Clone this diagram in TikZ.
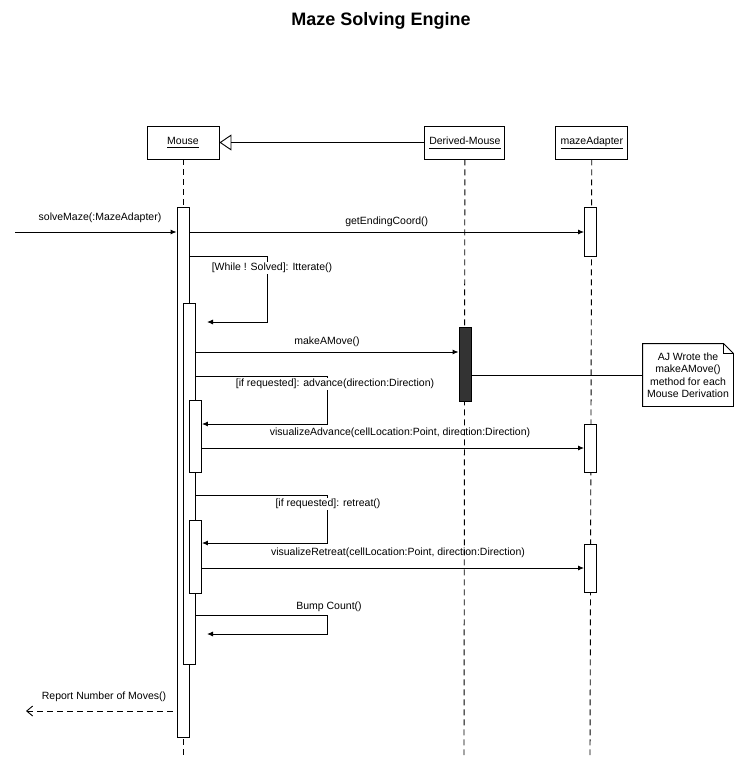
\documentclass[tikz,border=0pt]{standalone}
\usepackage{fontspec}
\setmainfont{Liberation Sans}
\usetikzlibrary{calc,arrows.meta,positioning}

\newcommand{\objname}[1]{\underline{#1\vphantom{p}}}

\begin{document}
\begin{tikzpicture}[x=1pt,y=-1pt,line width=0.9pt,
    txt/.style={font=\fontsize{10.5}{12.5}\selectfont,inner sep=1pt},
    head/.style={txt,draw,minimum height=33pt,inner sep=3pt},
    bar/.style={draw,fill=white,minimum width=12pt,inner sep=0pt,anchor=north},
    lifeline/.style={dash pattern=on 6pt off 4pt},
    msg/.style={-{Latex[length=6pt,width=5pt]}},
    reply/.style={dash pattern=on 6pt off 4pt,-{Straight Barb[length=6pt,width=10pt]}}]
    \useasboundingbox (0,0) rectangle (735,781);

    %title
    \node[font=\bfseries\fontsize{18}{20}\selectfont] (title) at (381,21) {Maze Solving Engine};

    %heads
    \node[head,minimum width=72pt] (mouse) at (183,142.5) {\objname{Mouse}};
    \node[head,minimum width=80pt,right = 205pt of mouse] (derived) {\objname{Derived-Mouse}};
    \node[head,minimum width=72pt,right = 50pt of derived] (adapter) {\objname{mazeAdapter}};

    \draw[-{Triangle[open,length=12pt,width=16pt]}] (derived) -- (mouse);

    %lifelines
    \coordinate (mouseEnd) at (183,755);
    \coordinate (derivedEnd) at (464,755);
    \coordinate (adapterEnd) at (590,755);
    \draw[lifeline] (mouse) -- (mouseEnd);
    \draw[lifeline] (derived) -- (derivedEnd);
    \draw[lifeline] (adapter) -- (adapterEnd);

    %activations
    \node[bar,minimum height=530pt] (mouseAct) at (183,207) {};
    \node[bar,minimum height=361pt] (loopAct) at (189,303) {};
    \node[bar,minimum height=72pt] (advAct) at (195.5,400) {};
    \node[bar,minimum height=73pt] (retAct) at (195.5,520) {};
    \node[bar,minimum height=74pt,fill=black!80] (derivedAct) at (465,327) {};
    \node[bar,minimum height=49pt] (adapterAct1) at (590.5,207) {};
    \node[bar,minimum height=48pt] (adapterAct2) at (590.5,424) {};
    \node[bar,minimum height=48pt] (adapterAct3) at (590.5,544) {};

    %calls
    \coordinate (solveStart) at (15,232);
    \draw[msg] (solveStart) -- (mouseAct.west |- solveStart);
    \node[txt] (solveLabel) at (100,218) {solveMaze(:MazeAdapter)};
    \draw[msg] (mouseAct.east |- solveStart) -- (adapterAct1.west |- solveStart)
        node[txt,midway,above=4pt] (coordLabel) {getEndingCoord()};

    %while loop
    \coordinate (itTop) at (267,256);
    \coordinate (itBot) at (267,322);
    \coordinate (itEnd) at (207,322);
    \draw[msg] (mouseAct.east |- itTop) -- (itTop) -- (itBot) -- (itEnd);
    \node[txt,fill=white] (itLabel) at (272,268) {[While ! Solved]: Itterate()};

    \coordinate (moveAt) at (330,352);
    \draw[msg] (loopAct.east |- moveAt) -- (derivedAct.west |- moveAt)
        node[txt,midway,above=4pt] (moveLabel) {makeAMove()};

    %advance
    \coordinate (advTop) at (327,376);
    \coordinate (advBot) at (327,424);
    \draw[msg] (loopAct.east |- advTop) -- (advTop) -- (advBot) -- (advAct.east |- advBot);
    \node[txt,fill=white] (advLabel) at (335,384) {[if requested]: advance(direction:Direction)};

    \coordinate (visAdvAt) at (400,448);
    \draw[msg] (advAct.east |- visAdvAt) -- (adapterAct2.west |- visAdvAt);
    \node[txt] (visAdvLabel) at (400,433) {visualizeAdvance(cellLocation:Point, direction:Direction)};

    %retreat
    \coordinate (retTop) at (327,495);
    \coordinate (retBot) at (327,543);
    \draw[msg] (loopAct.east |- retTop) -- (retTop) -- (retBot) -- (retAct.east |- retBot);
    \node[txt,fill=white] (retLabel) at (328,504) {[if requested]: retreat()};

    \coordinate (visRetAt) at (400,568);
    \draw[msg] (retAct.east |- visRetAt) -- (adapterAct3.west |- visRetAt);
    \node[txt] (visRetLabel) at (398,553) {visualizeRetreat(cellLocation:Point, direction:Direction)};

    %bump count
    \coordinate (bumpTop) at (327,615);
    \coordinate (bumpBot) at (327,634);
    \coordinate (bumpEnd) at (207,634);
    \draw[msg] (loopAct.east |- bumpTop) -- (bumpTop) -- (bumpBot) -- (bumpEnd);
    \node[txt] (bumpLabel) at (329,607) {Bump Count()};

    %return
    \coordinate (reportEnd) at (26,711);
    \draw[reply] ($(mouseAct.west |- reportEnd)+(-4,0)$) -- (reportEnd);
    \node[txt] (reportLabel) at (104,697) {Report Number of Moves()};

    %note
    \node[txt,align=center,minimum width=90pt,minimum height=62pt,inner sep=0pt] (note) at (688,375)
        {AJ Wrote the\\makeAMove()\\method for each\\Mouse Derivation};
    \draw (note.south west) -- (note.north west) -- ($(note.north east)+(-10,0)$)
        -- ($(note.north east)+(0,10)$) -- (note.south east) -- cycle;
    \draw ($(note.north east)+(-10,0)$) -- ($(note.north east)+(-10,10)$) -- ($(note.north east)+(0,10)$);
    \draw (derivedAct.east |- note.west) -- (note.west);
\end{tikzpicture}
\end{document}
